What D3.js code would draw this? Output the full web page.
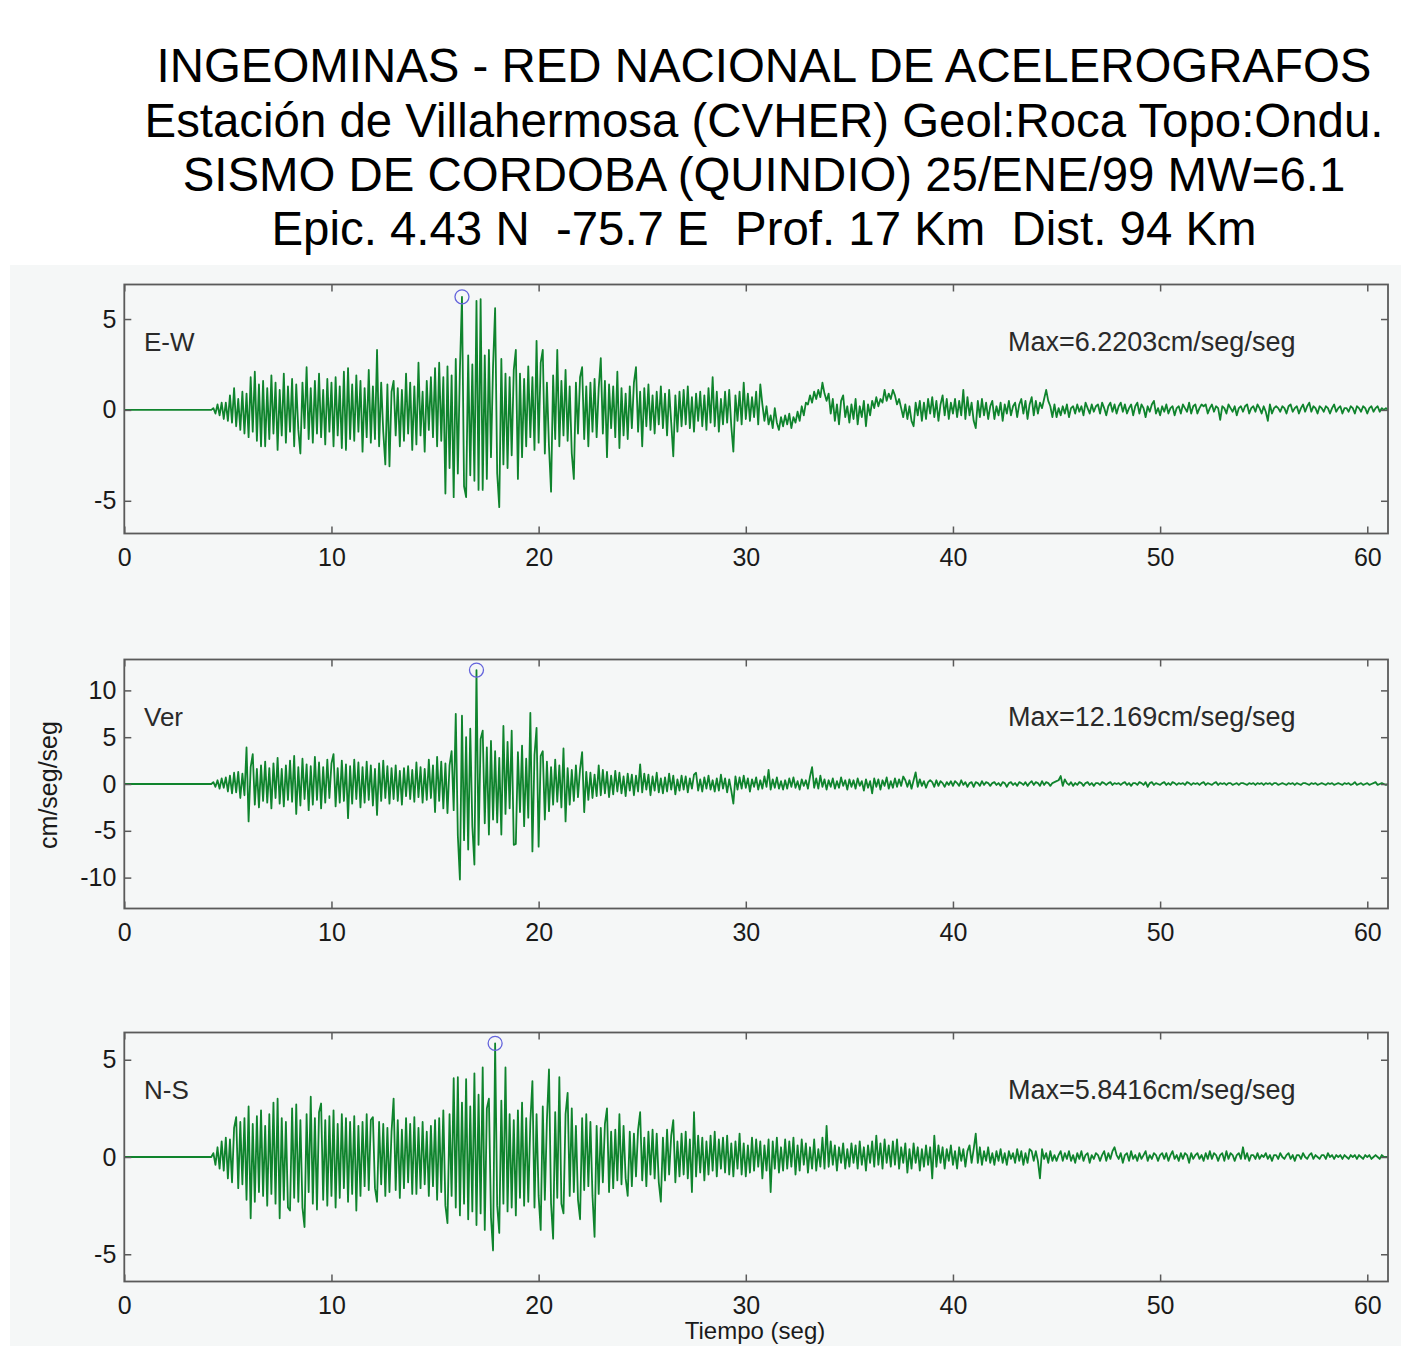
<!DOCTYPE html>
<html><head><meta charset="utf-8">
<script src="https://cdn.jsdelivr.net/npm/d3@7"></script>
<style>
body{margin:0;background:#fff}
svg{display:block}
text{font-family:"Liberation Sans",Arial,Helvetica,sans-serif}
</style>
</head><body>
<svg id="chart" width="1401" height="1346"></svg>
<script>
// ---------------- DATA ----------------
const titleLines = [
  "INGEOMINAS - RED NACIONAL DE ACELEROGRAFOS",
  "Estación de Villahermosa (CVHER) Geol:Roca Topo:Ondu.",
  "SISMO DE CORDOBA (QUINDIO) 25/ENE/99 MW=6.1",
  "Epic. 4.43 N  -75.7 E  Prof. 17 Km  Dist. 94 Km"
];
const componentNames = ["E-W", "Ver", "N-S"];
const maxLabels = ["Max=6.2203cm/seg/seg", "Max=12.169cm/seg/seg", "Max=5.8416cm/seg/seg"];
const xTickValues = [0, 10, 20, 30, 40, 50, 60];
const yTickValues = [[-5, 0, 5], [-10, -5, 0, 5, 10], [-5, 0, 5]];
const yDomains = [[-6.8, 6.9], [-13.3, 13.3], [-6.4, 6.4]];
const xDomain = [0, 61];
const xLabel = "Tiempo (seg)";
const yLabel = "cm/seg/seg";

// record is quiet (0) from t=0 until sampleStart; samples every sampleStep s
const quietValue = 0;
const sampleStart = 4.0;
const sampleStep = 0.1;

// E-W acceleration (cm/seg/seg), one row per second starting at 4.0 s
const ewValues = [
 0,0,0,0.1,-0.2,0.3,-0.3,0.4,-0.5,0.4,
 -0.6,0.8,-0.7,1.2,-0.9,0.6,-1.1,1.0,-1.3,0.9,
 -1.5,1.8,-1.2,2.1,-1.7,1.4,-2.0,1.6,-2.0,1.2,
 -1.6,1.9,-1.3,1.5,-2.2,1.1,-1.4,2.0,-1.8,1.3,
 -1.2,1.7,-2.0,1.4,-1.1,-2.4,1.5,-1.0,2.35,-1.6,
 1.2,-1.8,1.6,-1.3,2.0,-1.5,1.1,-1.9,1.7,-1.2,
 1.5,-2.0,1.8,-1.4,1.3,-2.1,2.1,-2.2,2.3,-1.6,
 1.4,-1.7,1.9,-1.2,1.6,-2.3,1.2,-1.5,2.2,-1.8,
 1.3,-1.6,3.3,-2.0,1.5,-1.2,-3.0,1.4,-3.1,1.0,
 1.6,-1.4,1.2,-2.0,1.1,-1.7,2.0,-1.3,1.5,-2.2,
 1.3,-1.9,2.6,-1.4,1.0,-2.3,1.6,-1.1,1.8,-1.5,
 2.3,-2.0,2.6,-1.7,1.8,-4.6,2.4,-3.2,1.9,-4.8,
 2.8,-3.5,2.2,6.2203,-4.2,-4.8,3.0,-3.6,2.5,-3.9,
 6.0,-4.4,6.1,-4.4,3.0,-3.8,3.3,-2.6,2.4,5.6,
 -3.5,-5.35,2.8,-3.0,2.0,-3.2,1.8,-2.5,2.2,3.3,
 -3.8,2.0,-2.6,1.7,-2.0,2.4,-1.5,1.8,-2.2,3.8,
 -1.8,2.6,3.3,-2.4,1.5,-2.0,-4.5,1.9,-1.6,3.3,
 -2.0,1.6,-1.4,2.2,-1.7,1.3,-2.4,-3.8,1.5,-1.3,
 1.8,2.35,-1.6,1.3,-2.0,1.5,-1.2,1.7,-1.5,1.2,
 2.85,-1.3,1.6,-2.6,1.4,-1.0,1.3,-1.5,2.1,-2.1,
 1.2,-1.4,0.9,-1.6,1.3,-1.0,1.5,2.35,-1.2,1.0,
 -2.0,1.2,-0.9,1.4,-1.1,0.8,-1.3,1.0,-0.8,1.3,
 -1.0,0.9,-1.4,1.1,-0.7,-2.55,0.8,-1.2,1.0,-0.9,
 1.1,-0.8,1.3,-1.0,0.7,-1.2,0.9,-0.6,1.0,-0.9,
 0.8,-1.1,1.2,-0.7,1.8,-0.9,1.0,-1.2,0.6,-0.8,
 1.0,-0.7,1.1,-0.9,-2.3,0.8,-0.6,1.0,-0.8,1.5,
 -0.5,0.9,-0.6,0.7,-0.4,1.0,-0.8,1.4,0.3,-0.6,
 0.2,-0.8,-0.3,-1.0,0.1,-0.7,-1.1,-0.4,-0.9,-0.3,
 -0.8,-0.2,-1.0,-0.4,-0.7,-0.1,-0.6,0.2,-0.3,0.4,
 0.3,0.8,0.4,1.0,0.6,1.1,0.7,1.5,0.9,0.5,
 0.9,-0.2,0.6,-0.6,0.3,-0.8,0.5,0.8,-0.4,0.2,
 -0.7,0.3,-0.5,0.6,-0.8,0.2,-0.4,0.5,-0.9,0.3,
 -0.3,0.5,0.1,0.7,0.2,0.6,0.4,1.1,0.5,0.9,
 0.6,1.1,0.8,0.3,0.6,0.1,-0.4,0.3,-0.5,0.2,
 -0.6,-0.9,0.4,-0.3,0.5,-0.6,0.4,-0.5,0.6,-0.2,
 0.7,-0.4,0.5,-0.6,0.3,0.8,-0.3,0.6,-0.5,0.4,
 -0.2,0.6,-0.4,0.5,-0.3,1.1,-0.5,0.7,-0.3,0.4,
 -0.6,-1.0,0.5,-0.4,0.6,-0.3,0.4,-0.5,0.2,0.5,
 -0.5,0.2,-0.3,0.4,-0.6,0.3,-0.2,0.5,-0.3,0.2,
 0.4,-0.4,0.3,0.6,-0.2,0.5,-0.5,0.3,0.7,-0.3,
 0.5,-0.2,0.4,0.1,0.6,1.1,0.5,0.2,-0.4,0.3,
 -0.4,0.1,-0.3,0.2,-0.2,0.3,-0.4,0.1,0.2,-0.2,
 0.3,-0.1,0.2,-0.3,0.4,0.1,-0.2,0.3,-0.1,0.2,
 0.3,-0.2,0.4,0.1,-0.3,0.2,0.4,-0.1,0.3,-0.2,
 0.2,0.4,-0.1,0.3,-0.2,0.1,0.3,-0.3,0.2,0.4,
 -0.2,0.3,0.1,-0.4,0.2,-0.1,0.3,0.5,-0.2,0.1,
 -0.3,0.2,-0.1,0.3,-0.2,0.1,0.2,-0.3,0.1,0.2,
 -0.2,0.3,0.1,-0.1,0.4,-0.2,0.2,0.3,-0.2,0.1,
 0.3,0.2,0.3,-0.2,0.1,0.3,-0.1,0.2,0.1,-0.55,
 0.2,0.1,-0.2,0.3,0.1,-0.1,0.2,-0.3,0.1,0.2,
 -0.1,0.2,0.3,-0.2,0.1,0.2,-0.1,0.3,0.1,-0.2,
 0.2,-0.1,-0.6,0.3,-0.2,0.1,0.2,0.1,-0.1,0.2,
 0.1,-0.2,0.2,0.3,-0.1,0.1,0.2,-0.2,0.1,0.3,
 -0.1,0.2,0.4,-0.1,0.2,0.1,-0.2,0.2,0.1,-0.1,
 0.2,0.1,-0.2,0.1,0.3,-0.1,0.1,0.2,-0.2,0.1,
 0.1,-0.1,0.2,0.1,-0.2,0.2,0.1,-0.1,0.2,0.1,
 -0.2,0.1,0.2,-0.1,0.1,0.2,-0.1,0.1,0.0,0.1,
 0.0
];

// Vertical acceleration (cm/seg/seg)
const verValues = [
 0,0,0,0.2,-0.3,0.4,-0.5,0.6,-0.4,0.7,
 -0.8,0.9,-1.0,1.2,-0.9,1.3,-1.5,1.1,-1.2,3.9,
 -4.0,1.8,3.2,-2.2,1.6,-2.5,2.0,-1.8,2.4,-2.0,
 1.7,-2.6,2.2,-1.5,2.8,-2.1,1.6,-2.4,2.0,-1.7,
 2.5,-1.9,3.0,-3.2,1.8,-2.3,2.7,-1.6,2.1,-2.8,
 1.9,-2.2,2.9,-1.7,2.3,-2.6,1.8,-2.0,2.6,-1.5,
 2.2,3.2,-2.4,1.7,-2.0,2.5,-1.8,2.1,-3.65,1.9,
 -2.1,2.6,-1.6,2.3,-2.5,1.8,-2.0,2.4,-1.7,2.0,
 -2.3,1.6,-3.3,2.2,-1.8,2.5,-1.5,1.9,-2.1,1.7,
 -1.6,2.0,-1.8,1.4,-2.2,1.7,-1.3,1.9,-1.6,1.5,
 -1.9,2.3,-1.4,1.8,-2.0,1.6,-1.7,2.6,-1.5,2.0,
 -3.0,2.9,-1.8,2.4,-2.6,2.2,-3.1,2.0,3.5,-2.8,
 7.5,-5.5,-10.2,7.3,-6.0,5.0,-7.0,5.9,-4.5,-8.6,
 12.169,-6.5,4.8,5.7,-4.2,3.9,-5.4,4.6,-3.8,3.5,
 -4.1,2.8,-5.4,6.2,-3.2,4.5,-2.6,5.7,-6.5,-6.4,
 3.4,-3.0,4.1,-4.5,2.7,-3.6,7.6,-7.2,3.1,6.0,
 -6.7,3.0,3.5,-3.8,2.4,-2.9,1.8,-2.2,2.6,-1.9,
 2.0,-2.5,3.8,-4.0,1.7,-2.2,1.5,-1.8,2.0,-1.4,
 1.6,3.4,-3.0,1.3,-1.7,1.2,-1.5,1.0,-1.3,2.0,
 -1.2,1.5,-1.0,1.3,-1.4,0.9,-1.1,1.4,-0.8,1.2,
 -1.0,0.8,-1.3,1.1,-0.7,1.0,-1.2,0.9,-0.8,2.1,
 -0.9,1.1,-0.6,1.0,-1.2,0.8,-0.7,1.2,-0.9,0.6,
 -1.0,0.7,-0.8,1.1,-0.6,0.9,-1.1,0.5,-0.7,0.9,
 -0.6,0.8,-0.9,0.6,-0.5,1.0,1.2,-0.7,0.5,-0.8,
 0.7,-0.5,0.9,-0.6,0.4,-0.8,0.6,-0.7,1.0,-0.5,
 0.6,-0.9,0.5,-0.7,-2.1,0.8,-0.6,0.7,-0.5,0.9,
 -0.4,0.6,-0.8,0.5,-0.3,0.7,-0.6,0.4,-0.5,0.8,
 -0.3,1.5,-0.6,0.5,-0.4,0.7,-0.5,0.3,-0.6,0.4,
 -0.5,0.6,-0.3,0.7,-0.4,0.3,-0.6,0.5,-0.2,0.4,
 -0.5,0.8,1.8,-0.4,0.6,-0.5,0.9,-0.3,0.5,-0.6,
 0.4,-0.3,0.6,-0.5,0.3,-0.4,0.7,-0.2,0.4,-0.6,
 0.5,-0.3,0.4,-0.5,0.6,-0.2,0.3,-0.7,0.5,-0.4,
 0.3,-1.0,0.6,-0.3,0.5,-0.6,0.4,-0.2,0.7,-0.5,
 0.3,-0.4,0.6,-0.3,0.5,-0.2,0.8,0.4,-0.3,0.4,
 -0.5,0.4,1.25,-0.3,0.5,-0.2,0.3,-0.4,0.2,0.4,
 0.2,-0.3,0.4,-0.2,0.3,0.1,-0.3,0.2,-0.1,0.3,
 -0.2,0.3,0.1,-0.2,0.4,-0.1,0.2,-0.3,0.1,0.2,
 -0.3,0.2,0.1,-0.2,0.3,-0.1,0.2,0.1,-0.2,0.1,
 0.2,-0.1,0.1,-0.2,0.2,0.1,-0.3,0.1,0.2,-0.1,
 0.1,-0.2,0.2,0.1,-0.1,0.2,-0.2,0.1,0.3,-0.1,
 0.2,0.1,-0.2,0.3,-0.1,0.2,0.1,-0.2,0.1,0.2,
 0.3,0.4,0.85,-0.2,0.5,0.1,-0.1,0.2,-0.2,0.1,
 -0.1,0.2,0.1,-0.2,0.1,0.2,-0.1,0.1,-0.2,0.1,
 0.1,-0.1,0.2,0.1,-0.1,0.1,0.2,-0.1,0.1,0.0,
 0.1,-0.1,0.1,0.2,-0.1,0.1,-0.2,0.1,0.1,-0.1,
 0.2,0.1,-0.1,0.2,-0.3,0.1,0.2,-0.1,0.1,0.0,
 -0.1,0.1,0.2,-0.1,0.1,-0.1,0.2,0.1,-0.1,0.1,
 0.0,0.1,-0.1,0.2,0.1,-0.1,0.1,0.0,0.1,-0.1,
 0.1,0.2,-0.1,0.1,0.0,-0.1,0.1,0.2,-0.1,0.1,
 0.0,0.1,-0.1,0.1,0.1,-0.1,0.0,0.1,-0.1,0.1,
 0.1,0.0,-0.1,0.1,0.0,0.1,-0.1,0.1,0.0,0.1,
 -0.1,0.1,0.0,0.1,-0.1,0.1,0.1,-0.1,0.0,0.1,
 0.0,-0.1,0.1,0.0,0.1,-0.1,0.1,0.0,-0.1,0.1,
 0.1,0.0,-0.1,0.1,0.0,0.1,-0.1,0.0,0.1,0.0,
 -0.1,0.1,0.0,0.1,-0.1,0.0,0.1,0.0,-0.1,0.1,
 0.0,0.1,-0.1,0.0,0.2,-0.1,0.0,0.1,-0.1,0.0,
 0.1,-0.1,0.0,0.1,0.2,-0.1,0.0,0.1,0.0,-0.1,
 0.0
];

// N-S acceleration (cm/seg/seg)
const nsValues = [
 0,0,0,0.2,-0.4,0.5,-0.6,0.8,-0.7,1.0,
 -1.1,0.9,-1.3,1.5,2.05,-1.6,1.8,-1.4,2.0,-2.2,
 2.6,-3.15,1.7,-2.3,2.1,-1.8,2.4,-2.0,1.6,-2.5,
 2.2,-1.9,2.8,-2.4,3.0,-3.15,2.0,-2.2,1.8,-2.6,
 -2.75,2.5,-2.1,2.7,-2.3,1.9,-2.6,-3.6,2.2,-1.8,
 3.1,-2.4,2.0,-2.7,2.3,2.75,-2.2,1.9,-2.5,2.1,
 -2.0,2.4,-2.6,1.7,-2.1,2.2,-1.6,2.0,-2.3,1.8,
 -1.9,2.1,-2.75,1.6,-2.0,1.8,-1.5,2.2,-1.7,1.9,
 2.05,-1.6,-2.3,1.8,-1.4,1.7,-2.0,1.5,-1.8,1.3,
 3.0,-1.7,1.9,-2.1,1.4,-1.6,2.0,-1.3,1.7,-1.9,
 2.05,-1.9,1.5,-1.6,1.8,-1.4,1.3,-2.0,1.6,-1.5,
 1.9,-2.2,2.0,-1.8,2.4,-2.5,-3.4,2.2,-2.0,4.05,
 -2.6,4.1,-3.0,2.8,-2.4,4.0,-3.2,2.6,-2.8,4.3,
 -3.5,3.2,-2.9,4.6,-3.75,2.5,3.0,-3.1,-4.8,5.8416,
 -2.5,-3.9,2.9,-2.4,4.6,-2.8,2.2,-2.6,1.9,-3.0,
 2.4,-2.1,2.8,-2.5,2.0,-2.3,1.8,3.9,-2.6,2.2,
 -2.0,-3.75,2.6,-2.2,1.9,4.5,-2.4,-4.2,2.3,-2.1,
 4.1,-2.4,-2.9,2.2,3.3,-2.0,2.5,-1.8,1.6,-2.2,
 -3.2,2.0,-1.7,2.2,-1.5,1.8,-2.0,-4.1,1.6,-1.9,
 1.5,-1.3,1.7,2.5,-1.8,1.3,-1.6,1.4,-1.2,2.2,
 -1.4,1.6,-1.1,-2.0,1.3,-1.5,1.2,-1.0,1.4,2.3,
 -1.2,1.0,-1.5,1.3,-0.9,1.4,-1.1,1.2,-1.3,-2.3,
 1.0,-1.2,1.4,-0.9,1.1,1.9,-1.3,0.8,-1.0,1.2,
 -0.9,1.3,-1.1,0.9,-1.8,2.3,-1.0,1.1,-0.8,1.0,
 -1.2,0.8,-0.9,1.1,-0.7,1.3,-1.0,0.9,-0.6,1.0,
 -0.8,1.1,-0.9,0.7,-1.0,0.8,-0.6,1.2,-0.9,0.7,
 -1.0,0.6,-0.8,1.0,-0.7,0.9,-0.5,0.8,-1.1,0.6,
 -0.7,0.9,-1.8,0.8,-0.6,1.0,-0.8,0.5,-0.7,0.9,
 -0.6,0.8,-0.5,1.0,-0.9,0.6,-0.7,0.9,-0.4,0.7,
 -0.8,0.5,-0.6,0.9,-0.7,0.4,-0.5,1.0,-0.6,1.6,
 -0.5,0.8,-0.4,0.6,-0.7,0.5,-0.3,0.7,-0.6,0.4,
 -0.5,0.7,-0.3,0.6,-0.6,0.8,-0.4,0.5,-0.7,0.6,
 -0.3,0.8,-0.5,1.1,-0.4,0.7,-0.6,0.9,-0.3,0.6,
 -0.5,0.8,-0.4,0.9,-0.6,0.5,-0.3,0.7,-0.8,0.4,
 -0.6,0.7,-0.3,0.5,-0.7,0.4,-0.5,0.6,-0.4,0.5,
 -1.1,1.1,-0.5,0.6,-0.3,0.5,-0.6,0.4,-0.2,0.6,
 -0.4,0.3,-0.6,0.5,-0.2,0.4,-0.5,0.3,0.6,-0.3,
 0.4,1.2,-0.3,0.5,-0.4,0.3,-0.2,0.5,-0.3,0.2,
 -0.4,0.3,-0.2,0.4,-0.3,0.2,-0.4,0.3,-0.1,0.2,
 -0.3,0.4,-0.2,0.3,-0.4,0.2,-0.3,0.4,0.3,-0.2,
 0.3,-0.2,-1.1,0.4,-0.1,0.2,-0.3,0.3,-0.2,0.1,
 -0.2,0.1,0.3,-0.2,0.2,-0.1,0.3,-0.2,0.1,-0.3,
 0.2,-0.1,0.3,-0.2,0.1,0.2,-0.3,0.1,-0.1,0.2,
 0.1,-0.2,0.1,0.3,-0.2,0.2,-0.1,0.3,0.5,0.1,
 -0.1,0.2,-0.3,0.1,0.2,-0.2,0.3,-0.1,0.1,-0.2,
 0.2,-0.1,0.1,0.3,-0.2,0.1,-0.1,0.2,0.1,-0.2,
 0.1,0.2,-0.1,0.2,-0.2,0.1,0.3,-0.1,0.1,-0.2,
 0.2,-0.1,0.2,0.1,-0.3,0.2,-0.1,0.1,0.2,-0.1,
 0.1,-0.2,0.2,-0.1,0.3,-0.1,0.2,0.1,-0.2,0.1,
 0.2,-0.2,0.3,-0.1,0.2,0.1,-0.2,0.1,0.2,-0.1,
 0.5,-0.1,0.2,-0.2,0.1,0.1,-0.1,0.2,-0.1,0.1,
 0.0,0.2,-0.1,0.1,-0.2,0.1,0.1,-0.1,0.2,0.0,
 -0.1,0.1,0.2,-0.1,0.1,-0.2,0.1,0.1,-0.1,0.2,
 0.0,-0.1,0.1,0.2,-0.1,0.1,0.0,-0.1,0.1,0.1,
 -0.1,0.2,0.0,0.1,-0.1,0.1,0.0,0.1,-0.1,0.1,
 0.0,-0.1,0.1,0.0,0.1,-0.1,0.1,0.0,-0.1,0.1,
 0.0,0.1,-0.1,0.0,0.1,0.0,-0.1,0.1,0.0,0.0,
 0.0
];
const seriesValues = [ewValues, verValues, nsValues];

// ---------------- LAYOUT ----------------
const W = 1401, H = 1346;
const svg = d3.select("#chart");
const plotLeft = 124.3, plotRight = 1388;
const panelTops = [284.5, 659.5, 1032.5];
const panelHeight = 249;
const traceColor = "#0f842d";
const frameColor = "#5a5a5a";

svg.append("rect").attr("x", 0).attr("y", 0).attr("width", W).attr("height", H).attr("fill", "#ffffff");
svg.append("rect").attr("x", 10).attr("y", 265).attr("width", W - 10).attr("height", H - 265).attr("fill", "#f5f7f7");

// Title
const titleBaselines = [82, 136.5, 190.5, 244.5];
svg.append("g").selectAll("text").data(titleLines).join("text")
  .attr("x", 764).attr("y", (d, i) => titleBaselines[i])
  .attr("text-anchor", "middle")
  .attr("font-size", 47.4)
  .attr("fill", "#000")
  .style("white-space", "pre")
  .text(d => d);

const x = d3.scaleLinear().domain(xDomain).range([plotLeft, plotRight]);
const plainFormat = d => String(d);

seriesValues.forEach((vals, k) => {
  const top = panelTops[k], bottom = top + panelHeight;
  const y = d3.scaleLinear().domain(yDomains[k]).range([bottom, top]);
  const g = svg.append("g");

  const clipId = "clip" + k;
  g.append("clipPath").attr("id", clipId).append("rect")
    .attr("x", plotLeft).attr("y", top).attr("width", plotRight - plotLeft).attr("height", panelHeight);

  const pts = [[xDomain[0], quietValue]].concat(vals.map((v, i) => [sampleStart + i * sampleStep, v]));
  const line = d3.line().x(d => x(d[0])).y(d => y(d[1]));
  g.append("path").datum(pts)
    .attr("clip-path", `url(#${clipId})`)
    .attr("d", line)
    .attr("fill", "none")
    .attr("stroke", traceColor)
    .attr("stroke-width", 1.8)
    .attr("stroke-linejoin", "round");

  // peak marker
  const iMax = d3.maxIndex(vals);
  g.append("circle")
    .attr("cx", x(sampleStart + iMax * sampleStep))
    .attr("cy", y(vals[iMax]))
    .attr("r", 7)
    .attr("fill", "none")
    .attr("stroke", "#6464dc")
    .attr("stroke-width", 1.3);

  // axes with inward ticks
  const styleAxis = sel => {
    sel.select(".domain").remove();
    sel.selectAll(".tick line").attr("stroke", frameColor).attr("stroke-width", 1.5);
    sel.selectAll(".tick text").attr("fill", "#1a1a1a").attr("font-size", 25)
      .attr("font-family", '"Liberation Sans",Arial,sans-serif');
  };
  g.append("g").attr("transform", `translate(0,${bottom})`)
    .call(d3.axisBottom(x).tickValues(xTickValues).tickSize(-7).tickPadding(15).tickFormat(plainFormat))
    .call(styleAxis);
  g.append("g").attr("transform", `translate(0,${top})`)
    .call(d3.axisTop(x).tickValues(xTickValues).tickSize(-7).tickFormat(""))
    .call(styleAxis);
  g.append("g").attr("transform", `translate(${plotLeft},0)`)
    .call(d3.axisLeft(y).tickValues(yTickValues[k]).tickSize(-7).tickPadding(8).tickFormat(plainFormat))
    .call(styleAxis);
  g.append("g").attr("transform", `translate(${plotRight},0)`)
    .call(d3.axisRight(y).tickValues(yTickValues[k]).tickSize(-7).tickFormat(""))
    .call(styleAxis);

  // frame
  g.append("rect").attr("x", plotLeft).attr("y", top)
    .attr("width", plotRight - plotLeft).attr("height", panelHeight)
    .attr("fill", "none").attr("stroke", frameColor).attr("stroke-width", 1.8);

  // labels
  g.append("text").attr("x", 144).attr("y", top + 66)
    .attr("font-size", 26).attr("fill", "#2a2a2a").text(componentNames[k]);
  g.append("text").attr("x", 1008).attr("y", top + 66)
    .attr("font-size", 27).attr("fill", "#2a2a2a").text(maxLabels[k]);
});

// axis titles
svg.append("text")
  .attr("transform", "translate(57,785) rotate(-90)")
  .attr("text-anchor", "middle").attr("font-size", 25).attr("fill", "#1a1a1a")
  .text(yLabel);
svg.append("text")
  .attr("x", 755).attr("y", 1339)
  .attr("text-anchor", "middle").attr("font-size", 24).attr("fill", "#1a1a1a")
  .text(xLabel);
</script>
</body></html>
